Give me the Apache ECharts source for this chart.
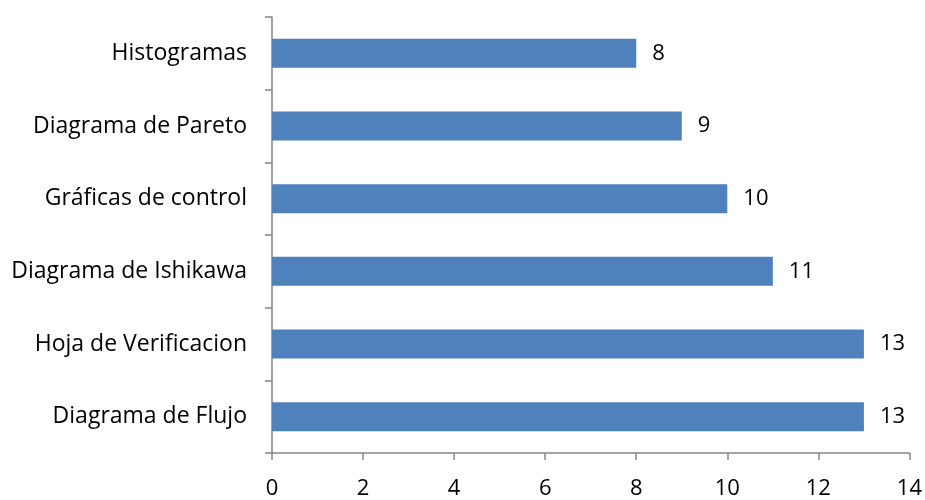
<!DOCTYPE html>
<html>
<head>
<meta charset="utf-8">
<script src="https://cdn.jsdelivr.net/npm/echarts@6/dist/echarts.min.js"></script>
<style>
  html, body { margin: 0; padding: 0; background: #fff; }
  #chart { width: 925px; height: 500px; }
</style>
</head>
<body>
<div id="chart"></div>
<script>
// Categories listed bottom-to-top, as the category axis draws them
const categories = [
  'Diagrama de Flujo',
  'Hoja de Verificacion',
  'Diagrama de Ishikawa',
  'Gráficas de control',
  'Diagrama de Pareto',
  'Histogramas'
];
const values = [13, 13, 11, 10, 9, 8];
const xTicks = [0, 2, 4, 6, 8, 10, 12, 14];

const FONT = '"Open Sans", sans-serif';
const AXIS_COLOR = '#868686';

const chart = echarts.init(document.getElementById('chart'), null, { renderer: 'canvas' });
chart.setOption({
  animation: false,
  backgroundColor: '#ffffff',
  grid: { left: 272, right: 15, top: 17, bottom: 46, containLabel: false },
  xAxis: {
    type: 'value',
    min: xTicks[0],
    max: xTicks[xTicks.length - 1],
    interval: 2,
    axisLine: { show: true, lineStyle: { color: AXIS_COLOR, width: 1.5 } },
    axisTick: { show: true, length: 7, lineStyle: { color: AXIS_COLOR, width: 1.5 } },
    splitLine: { show: false },
    axisLabel: { color: '#000', fontSize: 22, fontFamily: FONT, margin: 25 }
  },
  yAxis: {
    type: 'category',
    data: categories,
    axisLine: { show: true, lineStyle: { color: AXIS_COLOR, width: 1.5 } },
    axisTick: { show: true, length: 7, lineStyle: { color: AXIS_COLOR, width: 1.5 } },
    axisLabel: { color: '#000', fontSize: 23, fontFamily: FONT, margin: 25 }
  },
  series: [{
    type: 'bar',
    data: values,
    barWidth: '40%',
    itemStyle: { color: '#4F81BD' },
    label: {
      show: true,
      position: 'right',
      distance: 16,
      color: '#000',
      fontSize: 22,
      fontFamily: FONT
    }
  }]
});
</script>
</body>
</html>
